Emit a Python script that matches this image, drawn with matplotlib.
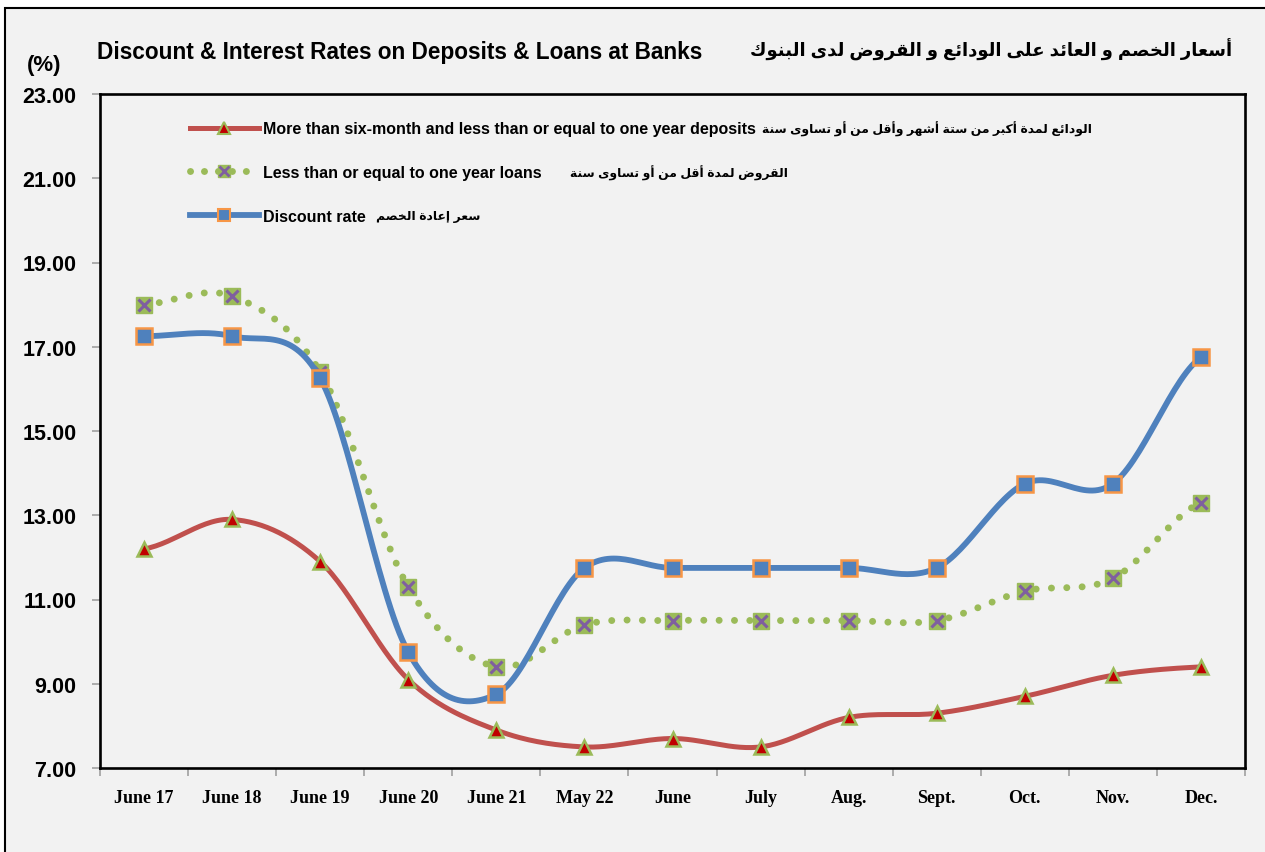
import numpy as np
import matplotlib.pyplot as plt
from matplotlib.patches import Rectangle
from matplotlib.lines import Line2D

# Chart data
categories = ['June 17', 'June 18', 'June 19', 'June 20', 'June 21', 'May 22',
              'June', 'July', 'Aug.', 'Sept.', 'Oct.', 'Nov.', 'Dec.']
deposits = [12.2, 12.9, 11.9, 9.1, 7.9, 7.5, 7.7, 7.5, 8.2, 8.3, 8.7, 9.2, 9.4]
loans = [18.0, 18.2, 16.4, 11.3, 9.4, 10.4, 10.5, 10.5, 10.5, 10.5, 11.2, 11.5, 13.3]
discount = [17.25, 17.25, 16.25, 9.75, 8.75, 11.75, 11.75, 11.75, 11.75, 11.75, 13.75, 13.75, 16.75]
yticks = [7, 9, 11, 13, 15, 17, 19, 21, 23]

title_en = 'Discount & Interest Rates on Deposits & Loans at Banks'
title_ar = 'أسعار الخصم و العائد على الودائع و القروض لدى البنوك'
label_en = ['More than six-month and less than or equal to one year deposits',
            'Less than or equal to one year loans',
            'Discount rate']
label_ar = ['الودائع لمدة أكبر من ستة أشهر وأقل من أو تساوى سنة',
            'القروض لمدة أقل من أو تساوى سنة',
            'سعر إعادة الخصم']

# minimal arabic shaping (presentation forms + RTL) since matplotlib doesn't shape
_letters = [('ء', 0xFE80, 1), ('آ', 0xFE81, 2), ('أ', 0xFE83, 2), ('ؤ', 0xFE85, 2),
            ('إ', 0xFE87, 2), ('ئ', 0xFE89, 4), ('ا', 0xFE8D, 2), ('ب', 0xFE8F, 4),
            ('ة', 0xFE93, 2), ('ت', 0xFE95, 4), ('ث', 0xFE99, 4), ('ج', 0xFE9D, 4),
            ('ح', 0xFEA1, 4), ('خ', 0xFEA5, 4), ('د', 0xFEA9, 2), ('ذ', 0xFEAB, 2),
            ('ر', 0xFEAD, 2), ('ز', 0xFEAF, 2), ('س', 0xFEB1, 4), ('ش', 0xFEB5, 4),
            ('ص', 0xFEB9, 4), ('ض', 0xFEBD, 4), ('ط', 0xFEC1, 4), ('ظ', 0xFEC5, 4),
            ('ع', 0xFEC9, 4), ('غ', 0xFECD, 4), ('ف', 0xFED1, 4), ('ق', 0xFED5, 4),
            ('ك', 0xFED9, 4), ('ل', 0xFEDD, 4), ('م', 0xFEE1, 4), ('ن', 0xFEE5, 4),
            ('ه', 0xFEE9, 4), ('و', 0xFEED, 2), ('ى', 0xFEEF, 2), ('ي', 0xFEF1, 4)]
FORMS = {c: (s, n) for c, s, n in _letters}
LAM_ALEF = {'آ': 0xFEF5, 'أ': 0xFEF7, 'إ': 0xFEF9, 'ا': 0xFEFB}


def shape(text):
    out = []
    i = 0
    while i < len(text):
        c = text[i]
        if c not in FORMS:
            out.append(c)
            i += 1
            continue
        prev = text[i - 1] if i > 0 else None
        nxt = text[i + 1] if i + 1 < len(text) else None
        join_prev = prev in FORMS and FORMS[prev][1] == 4
        if c == 'ل' and nxt in LAM_ALEF:
            out.append(chr(LAM_ALEF[nxt] + (1 if join_prev else 0)))
            i += 2
            continue
        start, n = FORMS[c]
        join_next = n == 4 and nxt in FORMS
        if join_prev and join_next:
            code = start + 3
        elif join_prev and n > 1:
            code = start + 1
        elif join_next:
            code = start + 2
        else:
            code = start
        out.append(chr(code))
        i += 1
    return ''.join(reversed(out))


def smooth(y, n=30):
    """Catmull-Rom curve through the points, like Excel's smoothed line."""
    p = np.r_[y[0], y, y[-1]]
    xs, ys = [], []
    t = np.linspace(0, 1, n, endpoint=False)
    for i in range(len(y) - 1):
        p0, p1, p2, p3 = p[i], p[i + 1], p[i + 2], p[i + 3]
        yy = 0.5 * (2 * p1 + (-p0 + p2) * t + (2 * p0 - 5 * p1 + 4 * p2 - p3) * t ** 2
                    + (-p0 + 3 * p1 - 3 * p2 + p3) * t ** 3)
        xs.append(i + t)
        ys.append(yy)
    xs.append([len(y) - 1])
    ys.append([y[-1]])
    return np.concatenate(xs), np.concatenate(ys)


SANS = ['Liberation Sans', 'DejaVu Sans']
SERIF = ['Liberation Serif', 'DejaVu Serif']
BG = '#f2f2f2'

fig = plt.figure(figsize=(12.65, 8.53), dpi=100, facecolor='white')
fig.patches.append(Rectangle((5 / 1265, -0.02), 1.05, 0.9894 + 0.02, transform=fig.transFigure,
                             facecolor=BG, edgecolor='black', linewidth=1.5, zorder=-5))
ax = fig.add_axes([100 / 1265, 84 / 853, 1145 / 1265, 674 / 853])
ax.set_facecolor(BG)

N = 30
x, y = smooth(deposits, N)
ax.plot(x, y, color='#c0504d', lw=3.6, solid_capstyle='round',
        marker='^', markevery=N, ms=10, mfc='#c00000', mec='#9bbb59', mew=1.8, zorder=3)
x, y = smooth(loans, N)
ax.plot(x, y, color='#9bbb59', lw=5, linestyle=(0, (0.01, 2.2)), dash_capstyle='round',
        marker='s', markevery=N, ms=11, mfc='#9bbb59', mec='#9bbb59', zorder=3)
ax.plot(np.arange(len(loans)), loans, linestyle='none', marker='x', ms=9, mec='#7f5f9f',
        mew=2.2, zorder=4)
x, y = smooth(discount, N)
ax.plot(x, y, color='#4f81bd', lw=4.2, solid_capstyle='round',
        marker='s', markevery=N, ms=11, mfc='#4f81bd', mec='#f79646', mew=1.8, zorder=5)

# legend handles (loans marker needs the x drawn on top)
h_dep = Line2D([], [], color='#c0504d', lw=3.6, marker='^', ms=8, mfc='#c00000',
               mec='#9bbb59', mew=1.5)
h_loan_bg = Line2D([], [], color='#9bbb59', lw=5, linestyle=(0, (0.01, 2.0)),
                   dash_capstyle='round', marker='s', ms=9, mfc='#9bbb59', mec='#9bbb59')
h_loan_x = Line2D([], [], linestyle='none', marker='x', ms=7, mec='#7f5f9f', mew=2)
h_disc = Line2D([], [], color='#4f81bd', lw=4.2, marker='s', ms=9, mfc='#4f81bd',
                mec='#f79646', mew=1.5)
leg = ax.legend([h_dep, (h_loan_bg, h_loan_x), h_disc], label_en, loc='upper left',
                bbox_to_anchor=(0.066, 0.981), frameon=False, handlelength=4.3,
                handletextpad=0.3, labelspacing=1.8,
                prop={'family': SANS, 'weight': 'bold', 'size': 11.5})

# arabic part of each legend entry, placed right after the english text
# (zorder above the legend so the legend is laid out first)
gaps = [4, 20, 7]
for txt, ar, g in zip(leg.get_texts(), label_ar, gaps):
    ax.annotate(shape(ar), xy=(1, 0.5), xycoords=txt, xytext=(g, 0),
                textcoords='offset points', ha='left', va='center',
                family=SANS, fontweight='bold', fontsize=8.9, zorder=10)

ax.set_xlim(-0.5, len(categories) - 0.5)
ax.set_ylim(7, 23)
ax.set_yticks(yticks)
ax.set_yticklabels(['%.2f' % v for v in yticks], family=SANS, fontweight='bold', fontsize=15.5)
ax.set_xticks(np.arange(len(categories)))
ax.set_xticklabels(categories, family=SERIF, fontweight='bold', fontsize=13)
ax.set_xticks(np.arange(len(categories) + 1) - 0.5, minor=True)
ax.tick_params(axis='x', which='major', length=0, pad=15)
ax.tick_params(axis='x', which='minor', length=6, color='#a0a0a0', width=1.2, direction='out')
ax.tick_params(axis='y', length=6, color='#a0a0a0', width=1.2, pad=11)
for s in ax.spines.values():
    s.set_linewidth(1.9)
    s.set_color('black')

fig.text(97 / 1265, 1 - 53 / 853, title_en, family=SANS, fontweight='bold', fontsize=16.3,
         ha='left', va='center')
fig.text(1232 / 1265, 1 - 50 / 853, shape(title_ar), family=SANS, fontweight='bold',
         fontsize=13, ha='right', va='center')
fig.text(44 / 1265, 1 - 66 / 853, '(%)', family=SANS, fontweight='bold', fontsize=16,
         ha='center', va='center')

fig.savefig('out.png', dpi=100, facecolor=fig.get_facecolor())
